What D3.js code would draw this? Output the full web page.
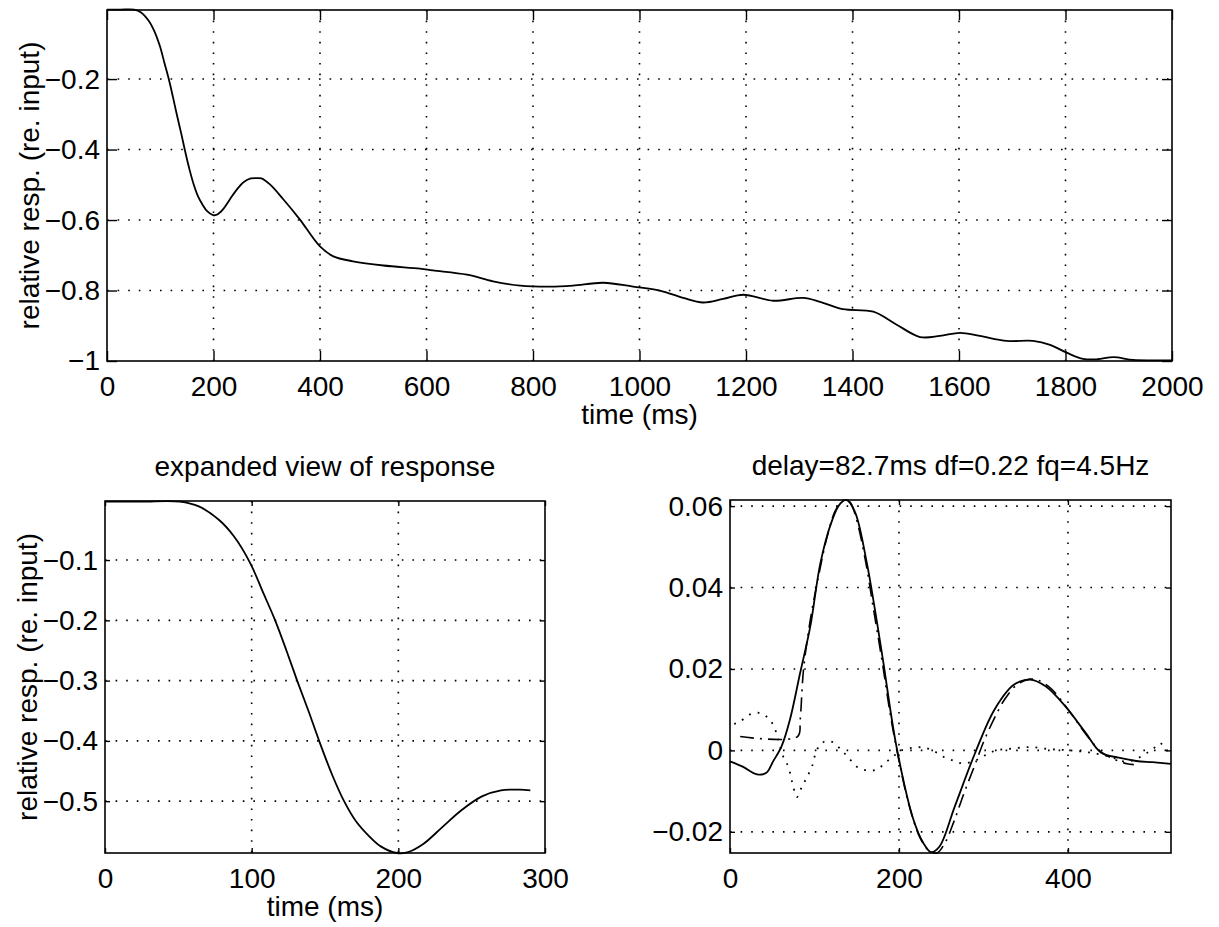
<!DOCTYPE html>
<html>
<head>
<meta charset="utf-8">
<script src="https://cdn.jsdelivr.net/npm/d3@7"></script>
<style>
  body { margin: 0; background: #fff; }
  text { font-family: "Liberation Sans", Arial, Helvetica, sans-serif; fill: #000; }
</style>
</head>
<body>
<div id="fig"></div>
<script>
// response of the step (top + expanded view share this series)
var respT = [0, 25, 51, 64, 78, 88, 99, 108, 116, 124, 131, 139, 146, 155, 163, 171, 180, 188, 199, 206, 217, 230, 243, 257, 270, 283, 290,
  306, 331, 362, 400, 425, 462, 519, 588, 612, 676, 725, 776, 832, 875, 932, 988, 1038, 1082, 1119, 1157, 1195, 1251, 1307, 1339,
  1382, 1439, 1483, 1527, 1564, 1602, 1639, 1690, 1739, 1771, 1803, 1833, 1860, 1890, 1927, 1972, 2000];
var respV = [-0.003, -0.003, -0.003, -0.011, -0.034, -0.061, -0.105, -0.155, -0.2, -0.252, -0.3, -0.352, -0.4, -0.457, -0.5, -0.533, -0.558, -0.575, -0.586, -0.585, -0.571, -0.543, -0.515, -0.492, -0.482, -0.481, -0.482,
  -0.499, -0.541, -0.598, -0.675, -0.703, -0.717, -0.729, -0.738, -0.743, -0.755, -0.774, -0.786, -0.789, -0.786, -0.778, -0.789, -0.80, -0.821, -0.834, -0.824, -0.812, -0.829, -0.821, -0.832,
  -0.853, -0.86, -0.897, -0.932, -0.929, -0.92, -0.929, -0.943, -0.943, -0.954, -0.977, -0.994, -0.995, -0.989, -0.997, -0.998, -0.998];

// measured signal (solid), fitted model (dash-dot), residual (dotted)
var dataT = [0, 15, 32, 43, 51, 61, 71, 83, 95, 107, 120, 130, 138, 148, 162, 172, 181, 197, 217, 229, 238, 248, 266, 290, 313, 336, 355, 374, 397, 421, 439, 460, 481, 500, 522];
var dataV = [-0.0027, -0.004, -0.0059, -0.0055, -0.0027, 0.001, 0.0076, 0.019, 0.0304, 0.046, 0.056, 0.0605, 0.0615, 0.0585, 0.046, 0.034, 0.0223, 0.001, -0.0169, -0.0228, -0.025, -0.0236, -0.0138, -0.0007, 0.01, 0.0161, 0.0174, 0.0157, 0.0108, 0.0043, -0.0005, -0.0018, -0.0026, -0.0029, -0.0033];
var fitT = [12, 80, 83, 87, 95, 105, 115, 125, 135, 142, 150, 160, 170, 180, 190, 200, 212, 225, 235, 245, 255, 265, 277, 290, 300, 312, 325, 340, 355, 365, 380, 395, 410, 425, 440, 455, 470, 478];
var fitV = [0.0034, 0.0034, 0.0075, 0.0198, 0.032, 0.043, 0.0525, 0.059, 0.0615, 0.061, 0.0565, 0.047, 0.0345, 0.022, 0.0085, -0.0025, -0.0135, -0.0215, -0.0245, -0.0252, -0.0225, -0.0175, -0.0105, -0.0035, 0.002, 0.0075, 0.0125, 0.0162, 0.0175, 0.0172, 0.0152, 0.0115, 0.0072, 0.003, -0.0005, -0.0022, -0.0033, -0.0035];
var resT = [5, 12, 23, 35, 45, 52, 57, 63, 69, 75, 79, 85, 91, 97, 103, 112, 122, 132, 140, 150, 162, 174, 183, 193, 203, 217, 229, 240, 252, 264, 276, 290, 302, 315, 332, 355, 379, 402, 425, 449, 467, 480, 490, 500, 509, 515, 522];
var resV = [0.0065, 0.0071, 0.0088, 0.0092, 0.008, 0.0059, 0.0027, -0.0015, -0.004, -0.009, -0.0115, -0.009, -0.0066, -0.004, 0.0002, 0.0022, 0.002, 0, -0.0017, -0.004, -0.0049, -0.0047, -0.0032, -0.0015, 0, 0.0007, 0.0007, 0, -0.0015, -0.0025, -0.0032, -0.0025, -0.0012, 0, 0.0004, 0.0008, 0.0003, 0, -0.0005, -0.0015, -0.0027, -0.0022, -0.001, 0.0002, 0.0018, 0.0005, -0.0008];

// tick values
var topXTicks = [0, 200, 400, 600, 800, 1000, 1200, 1400, 1600, 1800, 2000];
var topYTicks = [-1, -0.8, -0.6, -0.4, -0.2];
var expXTicks = [0, 100, 200, 300];
var expYTicks = [-0.5, -0.4, -0.3, -0.2, -0.1];
var fitXTicks = [0, 200, 400];
var fitYTicks = [-0.02, 0, 0.02, 0.04, 0.06];

var W = 1219, H = 927;
var FS = 28;
var svg = d3.select('#fig').append('svg')
  .attr('width', W)
  .attr('height', H);

var fmt = d3.format('~g');

function zip(ts, vs) {
  return ts.map(function(t, i) { return [t, vs[i]]; });
}

function panel(p) {
  var x = d3.scaleLinear().domain(p.xDomain).range([p.left, p.right]);
  var y = d3.scaleLinear().domain(p.yDomain).range([p.bottom, p.top]);
  var g = svg.append('g');
  var tick = p.tick;

  // dotted grid
  g.selectAll('.gx').data(p.xTicks.filter(function(d) { return d > p.xDomain[0] && d < p.xDomain[1]; }))
    .enter().append('line')
    .attr('x1', function(d) { return x(d); }).attr('x2', function(d) { return x(d); })
    .attr('y1', p.top).attr('y2', p.bottom)
    .attr('stroke', '#000').attr('stroke-width', 1.6).attr('stroke-dasharray', '1.6,9');
  g.selectAll('.gy').data(p.yTicks.filter(function(d) { return d > p.yDomain[0] && d < p.yDomain[1]; }))
    .enter().append('line')
    .attr('x1', p.left).attr('x2', p.right)
    .attr('y1', function(d) { return y(d); }).attr('y2', function(d) { return y(d); })
    .attr('stroke', '#000').attr('stroke-width', 1.6).attr('stroke-dasharray', '1.6,9');

  // axes, inward ticks on all four sides
  var ax = [
    { a: d3.axisBottom(x).tickValues(p.xTicks).tickSize(-tick).tickPadding(15).tickFormat(fmt), t: 'translate(0,' + p.bottom + ')' },
    { a: d3.axisTop(x).tickValues(p.xTicks).tickSize(-tick).tickFormat(''), t: 'translate(0,' + p.top + ')' },
    { a: d3.axisLeft(y).tickValues(p.yTicks).tickSize(-tick).tickPadding(7).tickFormat(fmt), t: 'translate(' + p.left + ',0)' },
    { a: d3.axisRight(y).tickValues(p.yTicks).tickSize(-tick).tickFormat(''), t: 'translate(' + p.right + ',0)' }
  ];
  ax.forEach(function(o) {
    var a = g.append('g').attr('transform', o.t).call(o.a.tickSizeOuter(0));
    a.select('.domain').remove();
    a.selectAll('line').attr('stroke', '#000').attr('stroke-width', 1.4);
    a.selectAll('text').attr('font-size', FS).attr('font-family', null).attr('fill', '#000');
  });

  g.append('rect')
    .attr('x', p.left).attr('y', p.top)
    .attr('width', p.right - p.left).attr('height', p.bottom - p.top)
    .attr('fill', 'none').attr('stroke', '#000').attr('stroke-width', 1.6);

  var line = d3.line()
    .x(function(d) { return x(d[0]); })
    .y(function(d) { return y(d[1]); })
    .curve(d3.curveCatmullRom.alpha(0.5));

  p.series.forEach(function(s) {
    g.append('path')
      .datum(s.pts)
      .attr('d', line)
      .attr('fill', 'none')
      .attr('stroke', '#000')
      .attr('stroke-width', s.w || 1.8)
      .attr('stroke-dasharray', s.dash || null);
  });

  if (p.title) {
    svg.append('text').attr('x', (p.left + p.right) / 2).attr('y', p.top - 25)
      .attr('text-anchor', 'middle').attr('font-size', FS).text(p.title);
  }
  if (p.xLabel) {
    svg.append('text').attr('x', (p.left + p.right) / 2).attr('y', p.bottom + 63)
      .attr('text-anchor', 'middle').attr('font-size', FS).text(p.xLabel);
  }
  if (p.yLabel) {
    svg.append('text')
      .attr('transform', 'translate(' + (p.left - 68) + ',' + ((p.top + p.bottom) / 2) + ') rotate(-90)')
      .attr('text-anchor', 'middle').attr('font-size', FS).text(p.yLabel);
  }
}

var resp = zip(respT, respV);

// top: full response
panel({
  left: 107, right: 1172, top: 10, bottom: 361, tick: 10,
  xDomain: [0, 2000], yDomain: [-1, -0.004],
  xTicks: topXTicks, yTicks: topYTicks,
  xLabel: 'time (ms)', yLabel: 'relative resp. (re. input)',
  series: [{ pts: resp }]
});

// bottom left: expanded view
panel({
  left: 105, right: 545, top: 501, bottom: 853, tick: 5,
  xDomain: [0, 300], yDomain: [-0.586, -0.002],
  xTicks: expXTicks, yTicks: expYTicks,
  title: 'expanded view of response',
  xLabel: 'time (ms)', yLabel: 'relative resp. (re. input)',
  series: [{ pts: resp.filter(function(d) { return d[0] <= 290; }) }]
});

// bottom right: fitted damped oscillation
panel({
  left: 730, right: 1171, top: 500, bottom: 853, tick: 5,
  xDomain: [0, 522], yDomain: [-0.0252, 0.0615],
  xTicks: fitXTicks, yTicks: fitYTicks,
  title: 'delay=82.7ms df=0.22 fq=4.5Hz',
  series: [
    { pts: zip(dataT, dataV) },
    { pts: zip(fitT, fitV), dash: '14,6,2,6', w: 1.6 },
    { pts: zip(resT, resV), dash: '1.8,7', w: 1.8 }
  ]
});
</script>
</body>
</html>
